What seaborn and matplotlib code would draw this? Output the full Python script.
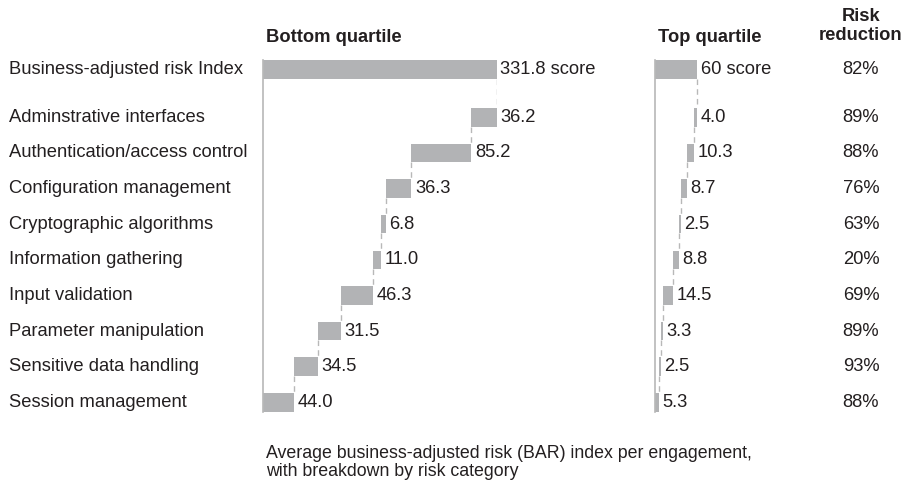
import numpy as np
import matplotlib
matplotlib.use("Agg")
import matplotlib.pyplot as plt
import matplotlib.transforms as mtransforms
import seaborn as sns

# ---------------------------------------------------------
# DATA
# ---------------------------------------------------------
categories = [
    "Adminstrative interfaces",
    "Authentication/access control",
    "Configuration management",
    "Cryptographic algorithms",
    "Information gathering",
    "Input validation",
    "Parameter manipulation",
    "Sensitive data handling",
    "Session management",
]
total_label = "Business-adjusted risk Index"

bottom_total = 331.8
bottom_values = [36.2, 85.2, 36.3, 6.8, 11.0, 46.3, 31.5, 34.5, 44.0]

top_total = 60
top_values = [4.0, 10.3, 8.7, 2.5, 8.8, 14.5, 3.3, 2.5, 5.3]

risk_reduction = ["82%", "89%", "88%", "76%", "63%", "20%", "69%", "89%", "93%", "88%"]

caption = ("Average business-adjusted risk (BAR) index per engagement,\n"
           "with breakdown by risk category")

# ---------------------------------------------------------
# STYLE
# ---------------------------------------------------------
sns.set_theme(style="white")
plt.rcParams["font.family"] = ["Liberation Sans", "DejaVu Sans"]

BAR = "#b2b3b5"
TXT = "#231f20"
LINE = "#b8b8b8"
FS = 13.2

W, H = 904, 487
fig = plt.figure(figsize=(W / 100, H / 100), dpi=100)

# row positions: total row, then extra gap, then categories
rows = np.concatenate([[0.0], 1.35 + np.arange(len(categories))])
bar_h = 0.52
ylim = (rows[-1] + bar_h / 2, rows[0] - bar_h / 2)

ax_top_px, ax_bot_px = 60, 411.5
ax_b = 1 - ax_bot_px / H
ax_hh = (ax_bot_px - ax_top_px) / H
ax_w = 234 / W

ax1 = fig.add_axes([263 / W, ax_b, ax_w, ax_hh])
ax2 = fig.add_axes([655 / W, ax_b, ax_w, ax_hh])


def waterfall(ax, total, values):
    values = np.array(values)
    # left edge of each component = sum of components below it
    lefts = np.concatenate([np.cumsum(values[::-1])[::-1][1:], [0.0]])
    ax.barh(rows[0], total, height=bar_h, left=0, color=BAR, lw=0)
    ax.barh(rows[1:], values, height=bar_h, left=lefts, color=BAR, lw=0)

    # connectors
    ax.plot([total, total], [rows[0] + bar_h / 2, rows[1] - bar_h / 2],
            color=LINE, lw=1, ls=(0, (4, 3)))
    for i in range(len(values) - 1):
        ax.plot([lefts[i], lefts[i]], [rows[i + 1] + bar_h / 2, rows[i + 2] - bar_h / 2],
                color=LINE, lw=1, ls=(0, (4, 3)))

    # value labels
    ax.annotate(f"{total} score", (total, rows[0]), xytext=(2.5, 0),
                textcoords="offset points", va="center", ha="left",
                fontsize=FS, color=TXT)
    for y, l, v in zip(rows[1:], lefts, values):
        ax.annotate(f"{v:.1f}", (l + v, y), xytext=(2.5, 0),
                    textcoords="offset points", va="center", ha="left",
                    fontsize=FS, color=TXT)

    ax.set_xlim(0, bottom_total)
    ax.set_ylim(*ylim)
    ax.set_xticks([])
    ax.set_yticks([])
    for s in ["top", "right", "bottom"]:
        ax.spines[s].set_visible(False)
    ax.spines["left"].set_color(LINE)
    ax.spines["left"].set_linewidth(1.2)
    ax.patch.set_alpha(0)


waterfall(ax1, bottom_total, bottom_values)
waterfall(ax2, top_total, top_values)

# category labels
trans_lbl = mtransforms.blended_transform_factory(fig.transFigure, ax1.transData)
for y, lab in zip(rows, [total_label] + categories):
    fig.text(9 / W, y, lab, transform=trans_lbl, va="center", ha="left",
             fontsize=FS, color=TXT)

# risk reduction column
trans_rr = mtransforms.blended_transform_factory(fig.transFigure, ax2.transData)
for y, rr in zip(rows, risk_reduction):
    fig.text(861 / W, y, rr, transform=trans_rr, va="center", ha="center",
             fontsize=FS, color=TXT)

# headers
fig.text(266 / W, 1 - 38 / H, "Bottom quartile", fontsize=FS, fontweight="bold",
         color=TXT, va="center", ha="left")
fig.text(658 / W, 1 - 38 / H, "Top quartile", fontsize=FS, fontweight="bold",
         color=TXT, va="center", ha="left")
fig.text(861 / W, 1 - 26 / H, "Risk\nreduction", fontsize=FS, fontweight="bold",
         color=TXT, va="center", ha="center", linespacing=1.2)

# caption
fig.text(266 / W, 1 - 462.5 / H, caption, fontsize=12.8, color=TXT,
         va="center", ha="left", linespacing=1.15)

fig.savefig("out.png", dpi=100)
